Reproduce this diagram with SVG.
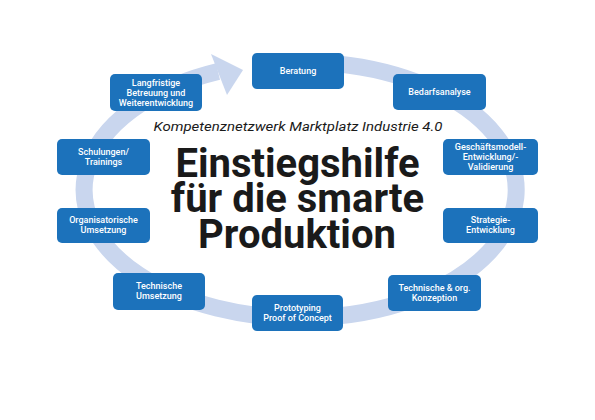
<svg xmlns="http://www.w3.org/2000/svg" width="595" height="420" viewBox="0 0 595 420">
<style>
.box{fill:#1c72bb;}
.lbl{font-family:Roboto,"Liberation Sans",sans-serif;font-size:9px;font-weight:500;fill:#ffffff;text-anchor:middle;}
.ring{fill:none;stroke:#c9d6ee;stroke-width:17;}
.head{fill:#c9d6ee;}
.sub{font-family:Roboto,"Liberation Sans",sans-serif;font-size:13.5px;font-style:italic;fill:#1a1a1a;text-anchor:middle;}
.big{font-family:Roboto,"Liberation Sans",sans-serif;font-size:40px;font-weight:700;fill:#1a1a1a;text-anchor:middle;}
</style>
<rect width="595" height="420" fill="#ffffff"/>
<g id="connectors">
<path class="ring" d="M337.5,63.9 A216,128 0 1 1 218,71.6"/>
<polygon class="head" points="211,54 243,70 227,95"/>
</g>
<g id="title">
<text class="sub" x="298" y="131" textLength="289" lengthAdjust="spacingAndGlyphs">Kompetenznetzwerk Marktplatz Industrie 4.0</text>
<text class="big" x="297.5" y="177">Einstiegshilfe</text>
<text class="big" x="297.5" y="212">für die smarte</text>
<text class="big" x="297" y="248">Produktion</text>
</g>
<g id="n-beratung">
<rect class="box" x="252" y="53" width="92" height="36" rx="5"/>
<text class="lbl" x="298" y="74">Beratung</text>
</g>
<g id="n-bedarfsanalyse">
<rect class="box" x="393" y="74" width="93" height="36" rx="5"/>
<text class="lbl" x="439.5" y="95">Bedarfsanalyse</text>
</g>
<g id="n-geschaeftsmodell">
<rect class="box" x="443" y="139" width="95" height="36" rx="5"/>
<text class="lbl" x="490.5" y="150">Geschäftsmodell-</text>
<text class="lbl" x="490.5" y="160">Entwicklung/-</text>
<text class="lbl" x="490.5" y="170">Validierung</text>
</g>
<g id="n-strategie">
<rect class="box" x="443" y="208" width="95" height="35" rx="5"/>
<text class="lbl" x="490.5" y="223">Strategie-</text>
<text class="lbl" x="490.5" y="233">Entwicklung</text>
</g>
<g id="n-konzeption">
<rect class="box" x="388" y="275" width="93" height="36" rx="5"/>
<text class="lbl" x="434.5" y="291">Technische &amp; org.</text>
<text class="lbl" x="434.5" y="301">Konzeption</text>
</g>
<g id="n-prototyping">
<rect class="box" x="252" y="295" width="91" height="36" rx="5"/>
<text class="lbl" x="297.5" y="311">Prototyping</text>
<text class="lbl" x="297.5" y="321">Proof of Concept</text>
</g>
<g id="n-umsetzung">
<rect class="box" x="113" y="273" width="92" height="37" rx="5"/>
<text class="lbl" x="159" y="289">Technische</text>
<text class="lbl" x="159" y="299">Umsetzung</text>
</g>
<g id="n-organisatorisch">
<rect class="box" x="57" y="208" width="93" height="35" rx="5"/>
<text class="lbl" x="103.5" y="223">Organisatorische</text>
<text class="lbl" x="103.5" y="233">Umsetzung</text>
</g>
<g id="n-schulungen">
<rect class="box" x="57" y="139" width="93" height="36" rx="5"/>
<text class="lbl" x="103.5" y="155">Schulungen/</text>
<text class="lbl" x="103.5" y="165">Trainings</text>
</g>
<g id="n-langfristig">
<rect class="box" x="110" y="74" width="92" height="37" rx="5"/>
<text class="lbl" x="156" y="86">Langfristige</text>
<text class="lbl" x="156" y="96">Betreuung und</text>
<text class="lbl" x="156" y="106">Weiterentwicklung</text>
</g>
</svg>
